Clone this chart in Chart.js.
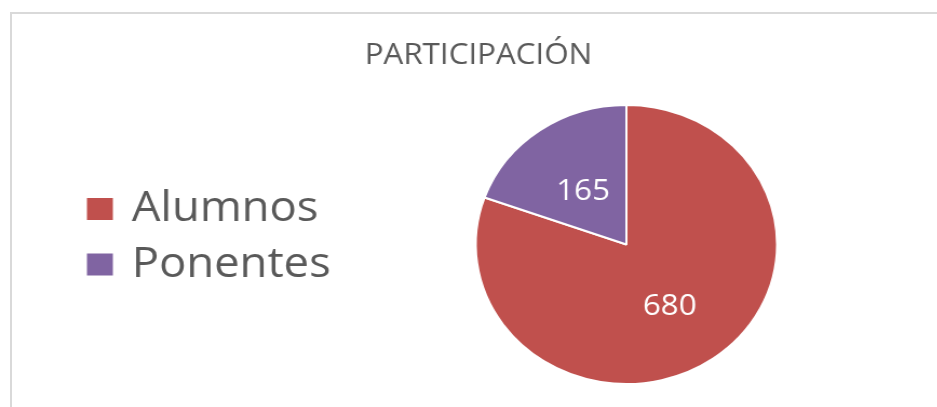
<!DOCTYPE html>
<html>
<head>
<meta charset="utf-8">
<script src="https://cdn.jsdelivr.net/npm/chart.js@4.4.1/dist/chart.umd.min.js"></script>
<style>
  html, body { margin: 0; padding: 0; background: #fff; overflow: hidden; }
  #marco { position: absolute; left: 10px; top: 12px; width: 1000px; height: 500px; border: 2px solid #d9d9d9; box-sizing: border-box; }
  #lienzo { position: absolute; left: 0; top: 0; width: 868px; height: 407px; transform: scaleX(1.08); transform-origin: 0 0; }
</style>
</head>
<body>
<div id="marco"></div>
<div id="lienzo"><canvas id="grafico" width="868" height="407"></canvas></div>
<script>
const titulo = 'PARTICIPACIÓN';
const categorias = ['Alumnos', 'Ponentes'];
const valores = [680, 165];
const colores = ['#C0504D', '#8064A2'];

const FUENTE = '"Open Sans", "Noto Sans", sans-serif';
const GRIS = '#595959';

// titulo, leyenda a la izquierda y numeros dentro de las porciones
const extras = {
    id: 'extras',
    afterDatasetsDraw(chart) {
        const ctx = chart.ctx;
        const meta = chart.getDatasetMeta(0);
        ctx.save();
        ctx.fillStyle = '#fff';
        ctx.font = '29px ' + FUENTE;
        ctx.textAlign = 'center';
        ctx.textBaseline = 'alphabetic';
        meta.data.forEach((arc, i) => {
            const p = arc.getCenterPoint();
            ctx.fillText(String(valores[i]), p.x, p.y + 13);
        });
        ctx.restore();
    },
    afterDraw(chart) {
        const ctx = chart.ctx;
        ctx.save();
        ctx.fillStyle = GRIS;
        ctx.font = '29px ' + FUENTE;
        ctx.textAlign = 'center';
        ctx.textBaseline = 'alphabetic';
        ctx.fillText(titulo, 443, 64);

        ctx.font = '42px ' + FUENTE;
        ctx.textAlign = 'left';
        categorias.forEach((cat, i) => {
            const y = 198 + i * 55.5;
            ctx.fillStyle = colores[i];
            ctx.fillRect(80.5, y, 24, 22);
            ctx.fillStyle = GRIS;
            ctx.fillText(cat, 122, y + 23);
        });
        ctx.restore();
    }
};

new Chart(document.getElementById('grafico'), {
    type: 'pie',
    data: {
        labels: categorias,
        datasets: [{
            data: valores,
            backgroundColor: colores,
            borderColor: '#fff',
            borderWidth: 2
        }]
    },
    options: {
        responsive: false,
        animation: false,
        layout: { padding: { left: 439.5, right: 147.5, top: 104, bottom: 22 } },
        plugins: {
            legend: { display: false },
            title: { display: false },
            tooltip: { enabled: false }
        }
    },
    plugins: [extras]
});
</script>
</body>
</html>
